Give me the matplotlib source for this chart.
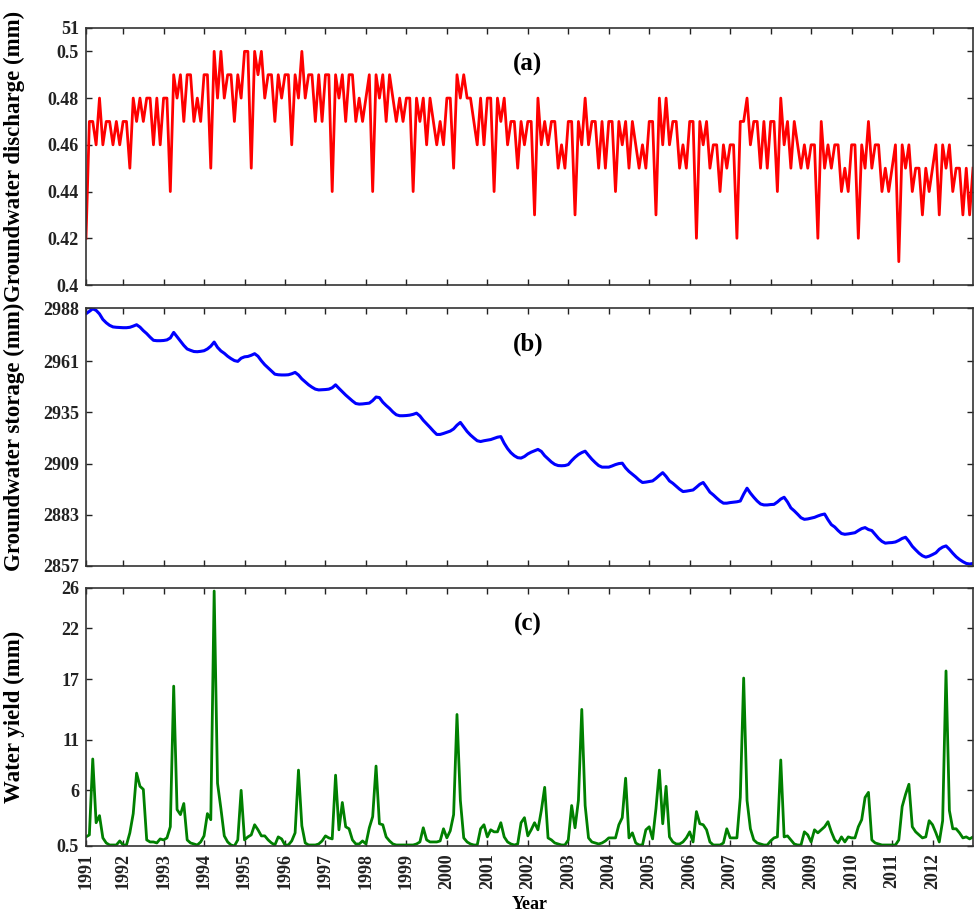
import numpy as np
import matplotlib
matplotlib.use("Agg")
from matplotlib import pyplot as plt

#-----------------------Data (monthly, 1991-2012)-----------------------#

discharge = [
    0.42,
    0.47,0.47,0.46,0.48,0.46,0.47,0.47,0.46,0.47,0.46,0.47,0.47,
    0.45,0.48,0.47,0.48,0.47,0.48,0.48,0.46,0.48,0.46,0.48,0.48,
    0.44,0.49,0.48,0.49,0.47,0.49,0.49,0.47,0.48,0.47,0.49,0.49,
    0.45,0.50,0.48,0.50,0.48,0.49,0.49,0.47,0.49,0.48,0.50,0.50,
    0.45,0.50,0.49,0.50,0.48,0.49,0.49,0.47,0.49,0.48,0.49,0.49,
    0.46,0.49,0.48,0.50,0.48,0.49,0.49,0.47,0.49,0.47,0.49,0.49,
    0.44,0.49,0.48,0.49,0.47,0.49,0.49,0.47,0.48,0.47,0.48,0.49,
    0.44,0.49,0.48,0.49,0.47,0.49,0.48,0.47,0.48,0.47,0.48,0.48,
    0.44,0.48,0.47,0.48,0.46,0.48,0.47,0.46,0.47,0.46,0.48,0.48,
    0.45,0.49,0.48,0.49,0.48,0.48,0.47,0.46,0.48,0.46,0.48,0.48,
    0.44,0.48,0.47,0.48,0.46,0.47,0.47,0.45,0.47,0.46,0.47,0.47,
    0.43,0.48,0.46,0.47,0.46,0.47,0.47,0.45,0.46,0.45,0.47,0.47,
    0.43,0.47,0.46,0.48,0.46,0.47,0.47,0.45,0.47,0.45,0.47,0.47,
    0.44,0.47,0.46,0.47,0.45,0.47,0.46,0.45,0.46,0.45,0.47,0.47,
    0.43,0.48,0.46,0.48,0.46,0.47,0.47,0.45,0.46,0.45,0.47,0.47,
    0.42,0.47,0.46,0.47,0.45,0.46,0.46,0.44,0.46,0.45,0.46,0.46,
    0.42,0.47,0.47,0.48,0.46,0.47,0.47,0.45,0.47,0.45,0.47,0.47,
    0.44,0.48,0.46,0.47,0.45,0.47,0.46,0.45,0.46,0.45,0.46,0.46,
    0.42,0.47,0.45,0.46,0.45,0.46,0.46,0.44,0.45,0.44,0.46,0.46,
    0.42,0.46,0.45,0.47,0.45,0.46,0.46,0.44,0.45,0.44,0.45,0.46,
    0.41,0.46,0.45,0.46,0.44,0.45,0.45,0.43,0.45,0.44,0.45,0.46,
    0.43,0.46,0.45,0.46,0.44,0.45,0.45,0.43,0.45,0.43,0.45,
]

storage = [
    2985.1,
    2986.3,2987.6,2986.8,2985.0,2982.2,2980.5,2979.2,2978.4,2978.2,2978.1,2978.0,2978.0,
    2978.2,2978.8,2979.5,2978.3,2976.5,2975.0,2973.2,2971.6,2971.4,2971.4,2971.5,2971.8,
    2972.8,2975.6,2973.4,2971.2,2969.0,2967.2,2966.5,2965.9,2965.8,2966.0,2966.3,2967.2,
    2968.6,2970.7,2968.0,2966.2,2965.0,2963.5,2962.3,2961.3,2960.9,2962.5,2963.2,2963.4,
    2964.0,2964.8,2963.5,2961.2,2959.2,2957.6,2956.0,2954.4,2954.1,2954.0,2954.0,2954.1,
    2954.6,2955.3,2954.0,2952.0,2950.5,2949.0,2947.8,2946.8,2946.4,2946.5,2946.6,2946.8,
    2947.5,2949.0,2947.2,2945.5,2943.8,2942.3,2940.8,2939.5,2939.2,2939.3,2939.5,2939.7,
    2941.0,2942.8,2942.5,2940.2,2938.5,2937.0,2935.2,2933.8,2933.3,2933.3,2933.4,2933.6,
    2934.0,2934.6,2933.2,2931.0,2929.2,2927.4,2925.5,2923.8,2923.8,2924.3,2924.9,2925.5,
    2926.6,2928.5,2929.9,2927.6,2925.3,2923.5,2922.0,2920.6,2920.2,2920.6,2920.9,2921.2,
    2921.8,2922.4,2922.7,2919.3,2916.6,2914.5,2913.0,2912.0,2911.8,2912.6,2913.9,2914.8,
    2915.5,2916.2,2915.2,2913.0,2911.4,2909.8,2908.6,2908.0,2907.9,2908.0,2908.5,2910.5,
    2912.2,2913.6,2914.6,2915.3,2913.2,2911.2,2909.5,2908.0,2907.2,2907.2,2907.2,2907.8,
    2908.5,2909.0,2909.2,2906.8,2905.0,2903.6,2902.2,2900.6,2899.4,2899.6,2899.9,2900.2,
    2901.5,2903.0,2904.4,2902.5,2900.2,2899.0,2897.5,2896.0,2894.8,2895.0,2895.3,2895.6,
    2897.0,2898.5,2899.4,2897.0,2894.5,2893.1,2891.5,2890.0,2888.9,2888.9,2889.2,2889.4,
    2889.6,2890.0,2893.5,2896.5,2894.0,2891.9,2890.0,2888.5,2888.0,2888.0,2888.2,2888.3,
    2889.5,2891.0,2891.9,2889.5,2886.5,2885.0,2883.3,2881.5,2880.7,2880.9,2881.3,2881.7,
    2882.4,2883.0,2883.4,2880.5,2878.0,2876.8,2875.0,2873.5,2873.1,2873.3,2873.6,2873.9,
    2875.0,2876.0,2876.5,2875.5,2875.0,2873.0,2871.0,2869.5,2868.6,2868.8,2868.9,2869.2,
    2870.0,2871.0,2871.6,2869.5,2867.0,2865.2,2863.5,2862.2,2861.5,2862.0,2862.8,2863.7,
    2865.5,2866.6,2867.2,2865.5,2863.5,2861.7,2860.3,2859.2,2858.3,2858.0,2858.3,
]

water_yield = [
    1.4,
    1.6,9.1,2.8,3.5,1.3,0.8,0.6,0.6,0.6,1.0,0.6,0.6,
    1.8,3.7,7.7,6.4,6.1,1.1,0.9,0.9,0.8,1.2,1.1,1.3,
    2.4,16.3,4.1,3.6,4.7,1.1,0.8,0.7,0.6,0.9,1.5,3.7,
    3.1,25.7,6.7,4.2,1.5,0.9,0.6,0.5,1.1,6.0,1.1,1.4,
    1.6,2.6,2.1,1.5,1.5,1.1,0.8,0.6,1.4,1.2,0.6,0.6,
    1.0,1.8,8.0,2.5,0.8,0.6,0.6,0.6,0.7,1.0,1.5,1.3,
    1.2,7.5,2.1,4.8,2.4,2.2,1.1,0.7,0.7,1.0,0.7,2.3,
    3.4,8.4,2.7,2.6,1.4,1.0,0.7,0.6,0.6,0.6,0.6,0.6,
    0.6,0.7,0.9,2.3,1.1,0.9,0.9,0.9,1.0,2.2,1.3,2.0,
    3.6,13.5,5.0,1.3,0.9,0.7,0.6,0.6,2.2,2.6,1.4,2.1,
    1.9,1.9,2.8,1.4,0.9,0.7,0.6,0.7,2.8,3.3,1.5,2.1,
    2.8,2.1,4.0,6.3,1.3,1.1,0.8,0.7,0.6,0.6,1.1,4.5,
    2.3,5.0,14.0,4.5,1.3,0.9,0.8,0.7,0.8,1.0,1.3,1.3,
    1.3,2.6,3.3,7.2,1.3,1.8,0.8,0.6,0.6,2.1,2.4,1.2,
    4.2,8.0,2.7,6.4,1.4,0.9,0.7,0.7,0.9,1.3,1.9,0.9,
    3.9,2.7,2.6,2.1,0.9,0.6,0.6,0.6,0.8,2.2,1.3,1.3,
    1.3,5.3,17.1,5.0,2.2,1.1,0.8,0.7,0.6,0.6,1.0,1.3,
    1.4,9.0,1.4,1.5,1.1,0.7,0.6,0.6,1.9,1.6,0.9,2.1,
    1.8,2.1,2.4,2.9,1.9,1.1,0.8,1.4,0.9,1.4,1.3,1.3,
    2.4,3.1,5.3,5.8,1.1,0.8,0.7,0.6,0.6,0.6,0.6,0.6,
    1.1,4.4,5.6,6.6,2.4,1.9,1.6,1.3,1.4,3.0,2.6,1.8,
    0.9,3.0,17.8,4.0,2.2,2.2,1.8,1.3,1.4,1.2,1.4,
]

years = [str(y) for y in range(1991, 2013)]
month = np.arange(1, len(discharge) + 1)
year_ticks = [1] + [12 * k for k in range(1, len(years))]

yticks_a = [0.40, 0.42, 0.44, 0.46, 0.48, 0.50, 0.51]
ylabels_a = ["0.4", "0.42", "0.44", "0.46", "0.48", "0.5", "51"]
yticks_b = [2857, 2883, 2909, 2935, 2961, 2988]
yticks_c = [0.5, 6, 11, 17, 22, 26]

#---------------------------Plotting---------------------------#

plt.rcParams['font.family'] = 'Liberation Serif'
plt.rcParams['font.weight'] = 'bold'

fig = plt.figure(figsize=(9.74, 9.15), dpi=100)
left, width = 86 / 974, 887 / 974
ax_a = fig.add_axes([left, 1 - 285 / 915, width, 257 / 915])
ax_b = fig.add_axes([left, 1 - 566 / 915, width, 258 / 915])
ax_c = fig.add_axes([left, 1 - 846 / 915, width, 258 / 915])

ax_a.plot(month, discharge, color='#ff0000', lw=2.0)
ax_b.plot(month, storage, color='#0000ff', lw=2.2)
ax_c.plot(month, water_yield, color='#008000', lw=2.0)

panels = [
    (ax_a, yticks_a, ylabels_a, 'Groundwater discharge (mm)', '(a)'),
    (ax_b, yticks_b, [str(v) for v in yticks_b], 'Groundwater storage (mm)', '(b)'),
    (ax_c, yticks_c, ['0.5', '6', '11', '17', '22', '26'], 'Water yield (mm)', '(c)'),
]

for ax, yt, yl, label, tag in panels:
    ax.set_xlim(1, len(discharge))
    ax.set_ylim(yt[0], yt[-1])
    ax.set_yticks(yt)
    ax.set_yticklabels(yl, fontsize=13, fontweight='bold')
    ax.set_xticks(year_ticks)
    ax.tick_params(direction='in', length=4, width=1, top=True, right=True,
                   pad=5, colors='#222222')
    for s in ax.spines.values():
        s.set_linewidth(1.2)
        s.set_color('#333333')
    ax.set_ylabel(label, fontsize=16.5, fontweight='bold')
    ax.yaxis.set_label_coords(-61 / 887, 0.5)
    ax.text(0.498, 0.86, tag, transform=ax.transAxes, ha='center', va='center',
            fontsize=18, fontweight='bold')

ax_a.set_xticklabels([])
ax_b.set_xticklabels([])
ax_c.set_xticklabels(years, rotation=90, fontsize=13, fontweight='bold')
ax_c.set_xlabel('Year', fontsize=13, fontweight='bold', labelpad=5)

fig.savefig('out.png', dpi=100)
